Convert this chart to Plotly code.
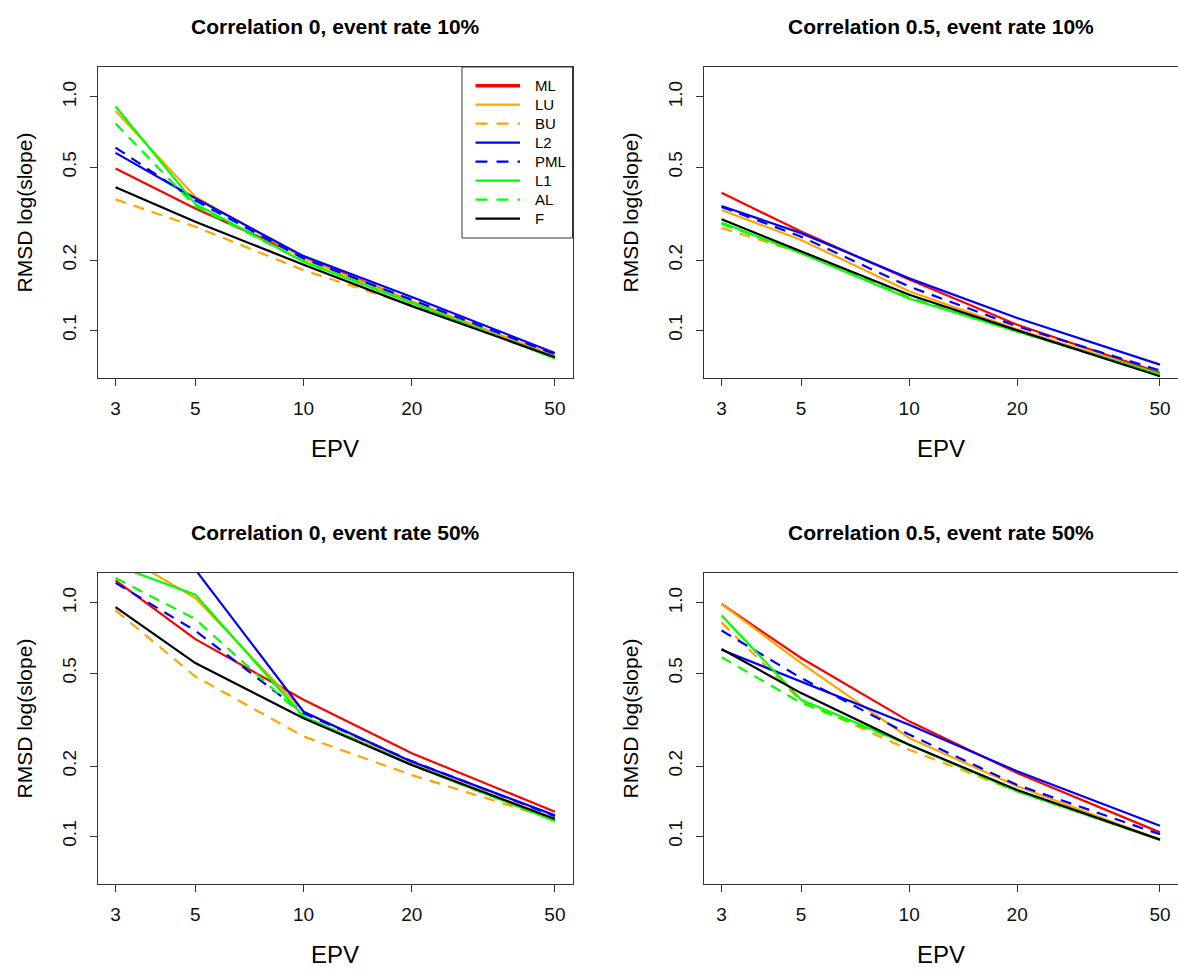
import numpy as np
import plotly.graph_objects as go

# EPV design points
epv = [3, 5, 10, 20, 50]

methods = ["ML", "LU", "BU", "L2", "PML", "L1", "AL", "F"]
colors = ["#FF0000", "#FFA500", "#FFA500", "#0000FF", "#0000FF", "#00FF00", "#00FF00", "#000000"]
dashed = [False, False, True, False, True, False, True, False]

# RMSD of log(slope), one list per method and scenario
# Correlation 0, event rate 10%
c0_e10_ML = [0.494, 0.333, 0.207, 0.133, 0.0776]
c0_e10_LU = [0.870, 0.374, 0.203, 0.133, 0.0778]
c0_e10_BU = [0.364, 0.278, 0.181, 0.128, 0.0775]
c0_e10_L2 = [0.576, 0.368, 0.208, 0.139, 0.0800]
c0_e10_PML = [0.607, 0.360, 0.203, 0.135, 0.0790]
c0_e10_L1 = [0.910, 0.348, 0.197, 0.131, 0.0757]
c0_e10_AL = [0.770, 0.340, 0.198, 0.131, 0.0765]
c0_e10_F = [0.410, 0.292, 0.191, 0.127, 0.0767]

# Correlation 0.5, event rate 10%
c5_e10_ML = [0.389, 0.265, 0.165, 0.1057, 0.0658]
c5_e10_LU = [0.328, 0.244, 0.147, 0.101, 0.0650]
c5_e10_BU = [0.275, 0.215, 0.138, 0.099, 0.0640]
c5_e10_L2 = [0.341, 0.261, 0.167, 0.113, 0.0713]
c5_e10_PML = [0.338, 0.252, 0.154, 0.104, 0.0673]
c5_e10_L1 = [0.290, 0.214, 0.137, 0.099, 0.0650]
c5_e10_AL = [0.286, 0.215, 0.138, 0.099, 0.0645]
c5_e10_F = [0.299, 0.218, 0.142, 0.100, 0.0636]

# Correlation 0, event rate 50%
c0_e50_ML = [1.25, 0.70, 0.385, 0.227, 0.1275]
c0_e50_LU = [1.67, 1.05, 0.342, 0.204, 0.119]
c0_e50_BU = [0.93, 0.484, 0.268, 0.183, 0.118]
c0_e50_L2 = [2.00, 1.39, 0.342, 0.209, 0.123]
c0_e50_PML = [1.22, 0.76, 0.337, 0.210, 0.122]
c0_e50_L1 = [1.45, 1.085, 0.326, 0.202, 0.1164]
c0_e50_AL = [1.28, 0.853, 0.326, 0.202, 0.1164]
c0_e50_F = [0.96, 0.553, 0.321, 0.202, 0.1186]

# Correlation 0.5, event rate 50%
c5_e50_ML = [0.990, 0.581, 0.311, 0.187, 0.104]
c5_e50_LU = [0.990, 0.553, 0.264, 0.164, 0.0968]
c5_e50_BU = [0.826, 0.380, 0.235, 0.156, 0.0968]
c5_e50_L2 = [0.630, 0.462, 0.301, 0.190, 0.111]
c5_e50_PML = [0.762, 0.477, 0.273, 0.166, 0.102]
c5_e50_L1 = [0.885, 0.385, 0.247, 0.156, 0.0968]
c5_e50_AL = [0.586, 0.373, 0.247, 0.156, 0.0968]
c5_e50_F = [0.635, 0.411, 0.247, 0.158, 0.0968]

panels = [
    ("Correlation 0, event rate 10%",
     [c0_e10_ML, c0_e10_LU, c0_e10_BU, c0_e10_L2, c0_e10_PML, c0_e10_L1, c0_e10_AL, c0_e10_F]),
    ("Correlation 0.5, event rate 10%",
     [c5_e10_ML, c5_e10_LU, c5_e10_BU, c5_e10_L2, c5_e10_PML, c5_e10_L1, c5_e10_AL, c5_e10_F]),
    ("Correlation 0, event rate 50%",
     [c0_e50_ML, c0_e50_LU, c0_e50_BU, c0_e50_L2, c0_e50_PML, c0_e50_L1, c0_e50_AL, c0_e50_F]),
    ("Correlation 0.5, event rate 50%",
     [c5_e50_ML, c5_e50_LU, c5_e50_BU, c5_e50_L2, c5_e50_PML, c5_e50_L1, c5_e50_AL, c5_e50_F]),
]

x_ticks = [3, 5, 10, 20, 50]
y_ticks = [0.1, 0.2, 0.5, 1.0]
y_ticktext = ["0.1", "0.2", "0.5", "1.0"]

W, H = 1178, 970
FONT = "Liberation Sans, Arial, sans-serif"
AXIS_COLOR = "#333333"

# panel boxes in pixels: (left, right, top, bottom)
boxes = [
    (98, 572.5, 67, 378),
    (704, 1177.5, 67, 378),
    (98, 572.5, 573, 884),
    (704, 1177.5, 573, 884),
]

# R-style 4% padding around the plotted limits on log axes
xlim = (3, 50)
ylim = (0.07, 1.2)
def padded(lim):
    a, b = np.log10(lim[0]), np.log10(lim[1])
    d = 0.04 * (b - a)
    return [a - d, b + d]

fig = go.Figure()
annotations = []
shapes = []

for i, (title, series) in enumerate(panels):
    k = "" if i == 0 else str(i + 1)
    xa, ya = "x" + k, "y" + k
    for name, vals, col, dsh in zip(methods, series, colors, dashed):
        fig.add_trace(go.Scatter(
            x=epv, y=vals, mode="lines", name=name, showlegend=False,
            line=dict(color=col, width=2.2, dash="11px,8px" if dsh else "solid"),
            xaxis=xa, yaxis=ya,
        ))
    l, r, t, b = boxes[i]
    fig.layout["xaxis" + k] = dict(
        type="log", range=padded(xlim), domain=[l / W, r / W], anchor=ya,
        tickvals=x_ticks, ticktext=[str(v) for v in x_ticks],
        ticks="outside", ticklen=7, tickwidth=1, tickcolor=AXIS_COLOR,
        showline=True, mirror=True, linecolor=AXIS_COLOR, linewidth=1,
        showgrid=False, zeroline=False, ticklabelstandoff=6,
        tickfont=dict(family=FONT, size=19, color="#111111"),
    )
    fig.layout["yaxis" + k] = dict(
        type="log", range=padded(ylim), domain=[1 - b / H, 1 - t / H], anchor=xa,
        tickvals=y_ticks, ticktext=y_ticktext, tickangle=-90,
        ticks="outside", ticklen=7, tickwidth=1, tickcolor=AXIS_COLOR,
        showline=True, mirror=True, linecolor=AXIS_COLOR, linewidth=1,
        showgrid=False, zeroline=False, ticklabelstandoff=6,
        tickfont=dict(family=FONT, size=19, color="#111111"),
    )
    cx = (l + r) / 2
    annotations.append(dict(
        text="<b>" + title + "</b>", x=cx / W, y=1 - (t - 41) / H,
        xref="paper", yref="paper", showarrow=False, xanchor="center", yanchor="middle",
        font=dict(family=FONT, size=21, color="#000000"),
    ))
    annotations.append(dict(
        text="EPV", x=cx / W, y=1 - (b + 70) / H,
        xref="paper", yref="paper", showarrow=False, xanchor="center", yanchor="middle",
        font=dict(family=FONT, size=24, color="#000000"),
    ))
    annotations.append(dict(
        text="RMSD log(slope)", x=(l - 74) / W, y=1 - ((t + b) / 2 - 10) / H,
        xref="paper", yref="paper", showarrow=False, xanchor="center", yanchor="middle",
        textangle=-90, font=dict(family=FONT, size=21, color="#000000"),
    ))

# legend box in the first panel
lg_l, lg_r, lg_t, lg_b = 462, 572.5, 67, 238
shapes.append(dict(type="rect", xref="paper", yref="paper",
                   x0=lg_l / W, x1=lg_r / W, y0=1 - lg_b / H, y1=1 - lg_t / H,
                   line=dict(color=AXIS_COLOR, width=1), fillcolor="white", layer="above"))
for j, (name, col, dsh) in enumerate(zip(methods, colors, dashed)):
    yy = 85.7 + 19 * j
    shapes.append(dict(type="line", xref="paper", yref="paper",
                       x0=475.5 / W, x1=520 / W, y0=1 - yy / H, y1=1 - yy / H,
                       line=dict(color=col, width=3.6 if name == "ML" else 2.2,
                                 dash="12px,9px" if dsh else "solid"),
                       layer="above"))
    annotations.append(dict(
        text=name, x=533 / W, y=1 - yy / H, xref="paper", yref="paper",
        showarrow=False, xanchor="left", yanchor="middle",
        font=dict(family=FONT, size=15, color="#000000"),
    ))

fig.update_layout(
    width=W, height=H, margin=dict(l=0, r=0, t=0, b=0),
    paper_bgcolor="white", plot_bgcolor="white",
    annotations=annotations, shapes=shapes, showlegend=False,
)

fig.write_html("out.html")
